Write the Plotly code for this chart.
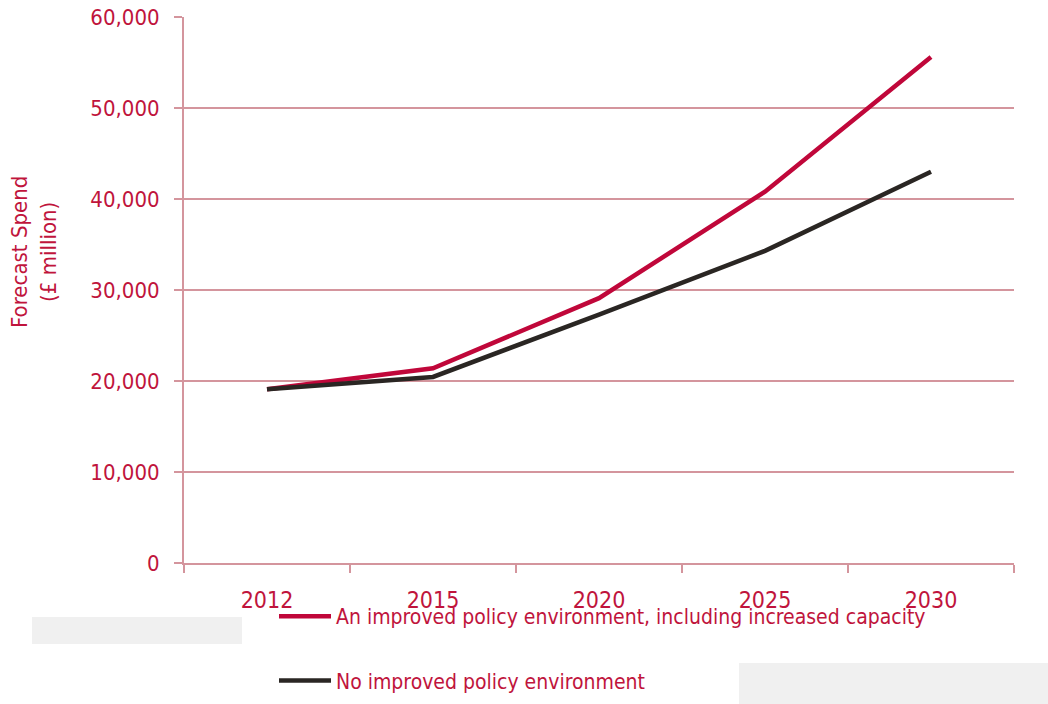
import plotly.graph_objects as go

years = ["2012", "2015", "2020", "2025", "2030"]
improved = [19100, 21400, 29100, 40800, 55600]
no_improved = [19100, 20450, 27300, 34300, 43000]
y_ticks = [0, 10000, 20000, 30000, 40000, 50000, 60000]
y_tick_labels = ["0", "10,000", "20,000", "30,000", "40,000", "50,000", "60,000"]
y_title = "Forecast Spend<br>(£ million)"

FONT = "Liberation Sans Narrow, Arial Narrow, DejaVu Sans Condensed, sans-serif"
TXT = "#C0143C"
GRID = "#D4959D"

L, R, T, B = 184, 34, 17, 141
W, H = 1048, 704
pw, ph = W - L - R, H - T - B

def px(x):
    return (x - L) / pw

def py(y):
    return (H - B - y) / ph

fig = go.Figure()
fig.add_trace(go.Scatter(x=years, y=improved, mode="lines",
                         name="An improved policy environment, including increased capacity",
                         legendgroup="a",
                         line=dict(color="#C0073A", width=4.5)))
fig.add_trace(go.Scatter(x=years, y=no_improved, mode="lines",
                         name="No improved policy environment",
                         legendgroup="b",
                         line=dict(color="#2A2623", width=4.5)))

fig.add_shape(type="rect", xref="paper", yref="paper",
              x0=px(32), x1=px(242), y0=py(644), y1=py(617),
              fillcolor="#F0F0F0", line_width=0, layer="below")
fig.add_shape(type="rect", xref="paper", yref="paper",
              x0=px(739), x1=px(1048), y0=py(704), y1=py(663),
              fillcolor="#F0F0F0", line_width=0, layer="below")

fig.add_annotation(text=y_title, xref="paper", yref="paper",
                   x=px(34), y=py(252), xanchor="center", yanchor="middle",
                   textangle=-90, showarrow=False,
                   font=dict(size=22, color=TXT, family=FONT))

fig.update_layout(
    width=W, height=H,
    margin=dict(l=L, r=R, t=T, b=B, autoexpand=False),
    paper_bgcolor="white", plot_bgcolor="white",
    font=dict(family=FONT, color=TXT, size=22),
    showlegend=True,
    legend=dict(xref="container", yref="container",
                x=274 / W, y=1 - 596 / H, xanchor="left", yanchor="top",
                bgcolor="rgba(0,0,0,0)", font=dict(size=21, color=TXT),
                itemwidth=52,
                traceorder="grouped", tracegroupgap=34),
    xaxis=dict(type="category", range=[-0.5, 4.5], tickson="boundaries",
               showline=True, linecolor=GRID, linewidth=2,
               ticks="outside", ticklen=8, tickcolor=GRID, tickwidth=2,
               showgrid=False, tickfont=dict(size=23, color=TXT),
               ticklabelstandoff=15, automargin=False),
    yaxis=dict(range=[0, 60000], tickvals=y_ticks, ticktext=y_tick_labels,
               showline=True, linecolor=GRID, linewidth=2,
               ticks="outside", ticklen=8, tickcolor=GRID, tickwidth=2,
               showgrid=True, gridcolor=GRID, gridwidth=1.5,
               zeroline=False, automargin=False,
               tickfont=dict(size=22, color=TXT), ticklabelstandoff=10),
)

fig.write_html("out.html")
